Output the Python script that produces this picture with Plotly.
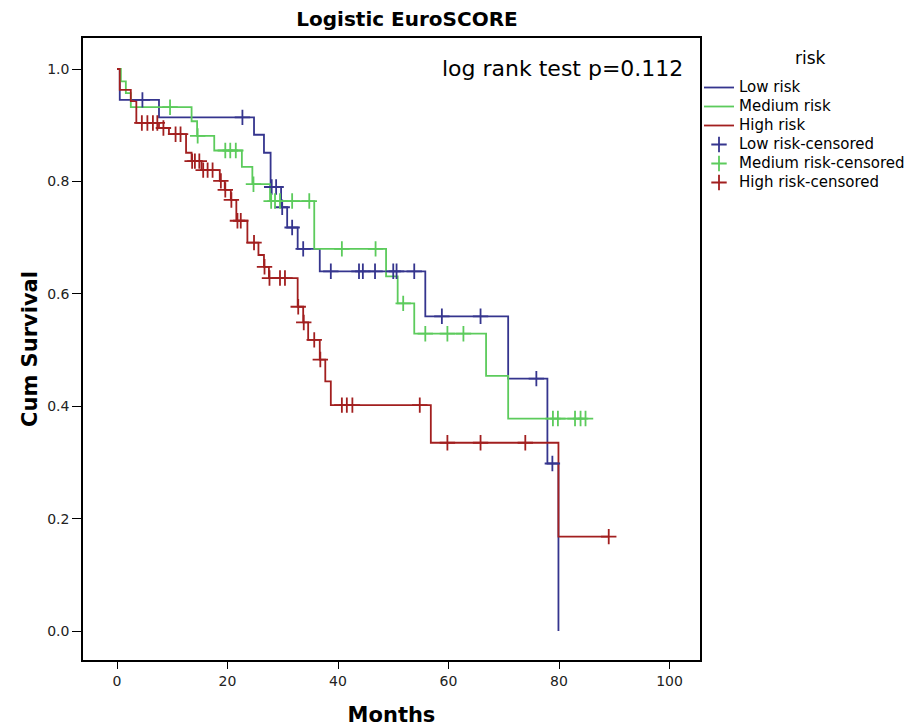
import numpy as np
import plotly.graph_objects as go

# ---------------- data ----------------
low_times = [0, 0.5, 7.6, 24.8, 26.6, 27.8, 29.7, 30.8, 32.7, 36.7, 55.8, 70.8, 77.9, 79.9]
low_surv = [1.0, 0.945, 0.914, 0.883, 0.851, 0.790, 0.754, 0.718, 0.680, 0.640, 0.560, 0.449, 0.298, 0.0]
low_cens = [4.6, 22.7, 28.0, 28.8, 29.9, 31.7, 33.7, 38.7, 43.8, 44.5, 46.7, 50.0, 50.6, 53.8,
            58.8, 65.8, 75.9, 78.8]

med_times = [0, 0.7, 1.6, 2.5, 13.5, 14.5, 17.6, 22.6, 24.5, 27.7, 35.7, 48.7, 50.8, 53.8, 66.8, 70.8]
med_surv = [1.0, 0.978, 0.957, 0.932, 0.907, 0.881, 0.855, 0.826, 0.795, 0.765, 0.680, 0.631,
            0.583, 0.529, 0.454, 0.378]
med_cens = [9.6, 14.6, 19.6, 20.5, 21.5, 24.7, 27.9, 28.6, 29.5, 31.7, 34.8, 40.7, 46.8, 51.8,
            55.8, 59.8, 62.7, 78.9, 79.8, 82.9, 83.9, 84.8]

high_times = [0, 0.5, 2.5, 3.5, 7.6, 9.4, 12.5, 13.5, 15.3, 18.6, 19.5, 20.6, 21.6, 23.6, 25.6,
              26.6, 27.5, 32.7, 33.7, 34.6, 36.7, 37.7, 38.7, 56.8, 79.9]
high_surv = [1.0, 0.963, 0.943, 0.904, 0.895, 0.884, 0.851, 0.836, 0.820, 0.801, 0.785, 0.767,
             0.730, 0.691, 0.669, 0.648, 0.628, 0.577, 0.549, 0.518, 0.483, 0.444, 0.402, 0.335, 0.168]
high_cens = [4.5, 5.5, 6.5, 7.3, 8.4, 10.6, 11.5, 13.6, 14.1, 14.9, 15.6, 16.4, 17.3, 18.8, 19.6,
             20.7, 21.8, 22.4, 24.8, 26.7, 27.6, 29.5, 30.4, 32.8, 33.8, 35.7, 36.8, 40.7, 41.6,
             42.6, 54.8, 59.8, 65.8, 73.9, 89.0]

group_names = ["Low risk", "Medium risk", "High risk"]
x_ticks = [0, 20, 40, 60, 80, 100]
y_ticks = [0.0, 0.2, 0.4, 0.6, 0.8, 1.0]

colors = ["#35358e", "#5ccb5c", "#a21f1f"]
FONT = "DejaVu Sans"

groups = [(low_times, low_surv, low_cens), (med_times, med_surv, med_cens),
          (high_times, high_surv, high_cens)]


def surv_at(times, surv, t):
    i = int(np.searchsorted(np.array(times), t, side="right")) - 1
    return surv[i]


def leg(txt):
    return '<span style="font-size:15px">' + txt + '</span>'


fig = go.Figure()
for (t, s, c), name, col in zip(groups, group_names, colors):
    lx, ly = list(t), list(s)
    if max(c) > lx[-1]:
        lx.append(max(c))
        ly.append(ly[-1])
    fig.add_trace(go.Scatter(x=lx, y=ly, mode="lines", line=dict(color=col, width=1.8, shape="hv"),
                             name=leg(name), hoverinfo="skip"))
for (t, s, c), name, col in zip(groups, group_names, colors):
    cy = [surv_at(t, s, v) for v in c]
    fig.add_trace(go.Scatter(x=c, y=cy, mode="markers",
                             marker=dict(symbol="cross-thin", size=11, line=dict(color=col, width=1.8),
                                         color=col),
                             name=leg(name + "-censored"), hoverinfo="skip"))

# page body has an 8px margin: figure coordinates = page coordinates - 8
OFF = 8
W, H = 914 - OFF, 727 - OFF
L, R, T, B = 83 - OFF, 700 - OFF, 38 - OFF, 660 - OFF
px_per_month = 5.525
x0 = -(117 - 83) / px_per_month
x1 = x0 + (R - L) / px_per_month
py_per_unit = 562.0
y0 = -(660 - 631) / py_per_unit
y1 = y0 + (B - T) / py_per_unit

fig.update_layout(
    width=W, height=H,
    margin=dict(l=L, r=W - R, t=T, b=H - B, autoexpand=False),
    paper_bgcolor="white", plot_bgcolor="white",
    font=dict(family=FONT, color="#222222"),
    showlegend=True,
    title=dict(text="<b>Logistic EuroSCORE</b>", x=(407 - OFF) / W, xref="container", xanchor="center",
               y=1 - (19 - OFF) / H, yref="container", yanchor="middle",
               font=dict(family=FONT, size=20, color="black")),
    legend=dict(xref="container", yref="container", x=691 / W, y=1 - 65 / H,
                xanchor="left", yanchor="top",
                font=dict(family=FONT, size=12.3, color="black"),
                bgcolor="rgba(0,0,0,0)", itemwidth=30, tracegroupgap=0),
    xaxis=dict(range=[x0, x1], tickmode="array", tickvals=x_ticks, showgrid=False, zeroline=False,
               automargin=False,
               showline=True, linecolor="black", linewidth=1.5, mirror=True,
               ticks="outside", ticklen=7, tickcolor="black", tickwidth=1.2,
               tickfont=dict(family=FONT, size=14, color="#222222"),
               title=dict(text="<b>Months</b>", font=dict(family=FONT, size=21, color="black"), standoff=24)),
    yaxis=dict(range=[y0, y1], tickmode="array", tickvals=y_ticks, tickformat=".1f", showgrid=False,
               automargin=False,
               zeroline=False, showline=True, linecolor="black", linewidth=1.5, mirror=True,
               ticks="outside", ticklen=9, tickcolor="black", tickwidth=1.2,
               tickfont=dict(family=FONT, size=14, color="#222222"),
               title=dict(text="<b>Cum Survival</b>", font=dict(family=FONT, size=21, color="black"), standoff=4)),
    annotations=[
        dict(text="log rank test p=0.112", xref="paper", yref="paper",
             x=(685 - 83) / (700 - 83), y=(660 - 69) / (660 - 38), xanchor="right", yanchor="middle",
             showarrow=False, font=dict(family=FONT, size=22, color="black")),
        dict(text="risk", xref="paper", yref="paper",
             x=(810 - 83) / (700 - 83), y=(660 - 58) / (660 - 38), xanchor="center", yanchor="middle",
             showarrow=False, font=dict(family=FONT, size=17, color="black")),
    ],
)

fig.write_html("out.html")
